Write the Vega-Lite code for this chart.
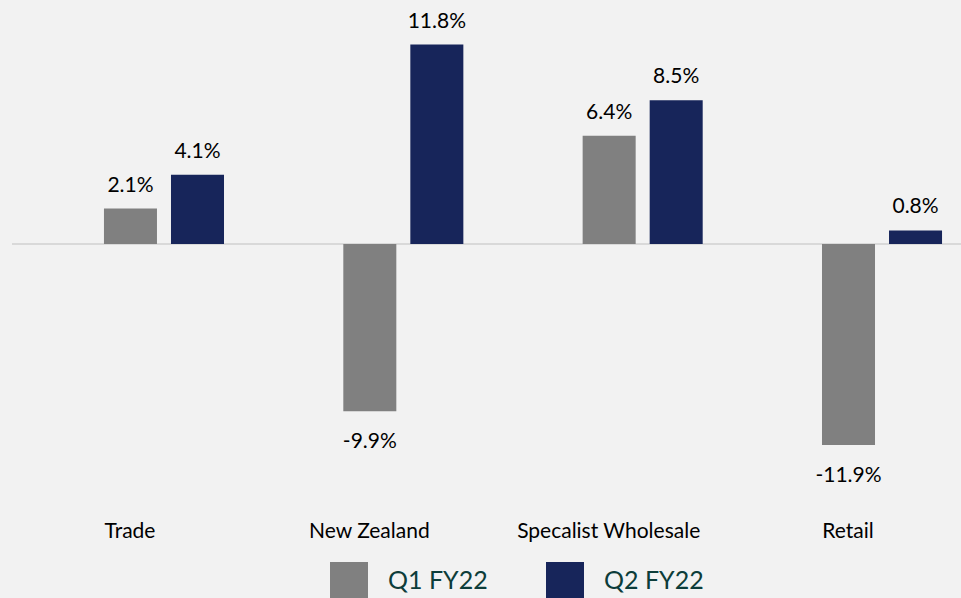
{
  "$schema": "https://vega.github.io/schema/vega-lite/v6.json",
  "autosize": {"type": "none"},
  "width": 949,
  "height": 473.2,
  "padding": {"left": 12, "top": 7.4, "right": 0, "bottom": 117.4},
  "background": "#f2f2f2",
  "config": {
    "view": {"stroke": null},
    "font": "Lato",
    "text": {"font": "Lato"},
    "locale": {"number": {"decimal": ".", "thousands": ",", "grouping": [3], "currency": ["$", ""], "minus": "-", "percent": "%"}}
  },
  "data": {
    "values": [
      {"segment": "Trade", "period": "Q1 FY22", "value": 0.021},
      {"segment": "Trade", "period": "Q2 FY22", "value": 0.041},
      {"segment": "New Zealand", "period": "Q1 FY22", "value": -0.099},
      {"segment": "New Zealand", "period": "Q2 FY22", "value": 0.118},
      {"segment": "Specalist Wholesale", "period": "Q1 FY22", "value": 0.064},
      {"segment": "Specalist Wholesale", "period": "Q2 FY22", "value": 0.085},
      {"segment": "Retail", "period": "Q1 FY22", "value": -0.119},
      {"segment": "Retail", "period": "Q2 FY22", "value": 0.008}
    ]
  },
  "encoding": {
    "x": {
      "field": "segment",
      "type": "nominal",
      "sort": null,
      "scale": {"paddingInner": 0, "paddingOuter": 0.135, "range": [0, 1022]},
      "axis": {
        "title": null,
        "domain": false,
        "ticks": false,
        "grid": false,
        "labelAngle": 0,
        "labelFont": "Lato",
        "labelFontSize": 21,
        "labelFontWeight": "normal",
        "labelColor": "#000000",
        "labelPadding": 40,
        "labelOffset": -34,
        "labelLimit": 300
      }
    },
    "xOffset": {
      "field": "period",
      "type": "nominal",
      "scale": {"paddingInner": 0.209, "paddingOuter": 0.89}
    },
    "y": {
      "field": "value",
      "type": "quantitative",
      "scale": {"domain": [-0.14, 0.14], "nice": false, "zero": true},
      "axis": null
    }
  },
  "layer": [
    {
      "mark": {"type": "rule", "color": "#d9d9d9", "strokeWidth": 2},
      "encoding": {"y": {"datum": 0}, "x": {"value": 0}, "x2": {"value": 949}, "xOffset": null}
    },
    {
      "mark": {"type": "bar"},
      "encoding": {
        "color": {
          "field": "period",
          "type": "nominal",
          "scale": {"domain": ["Q1 FY22", "Q2 FY22"], "range": ["#808080", "#17255a"]},
          "legend": {
            "title": null,
            "orient": "none",
            "direction": "horizontal",
            "legendX": 318,
            "legendY": 554.6,
            "symbolType": "square",
            "symbolSize": 1444,
            "symbolStrokeWidth": 0,
            "labelFont": "Lato",
            "labelFontSize": 25,
            "labelColor": "#0d3d3a",
            "labelOffset": 20,
            "columnPadding": 58,
            "labelLimit": 300
          }
        }
      }
    },
    {
      "transform": [{"filter": "datum.value >= 0"}],
      "mark": {"type": "text", "baseline": "alphabetic", "dy": -17, "fontSize": 21, "color": "#000000"},
      "encoding": {"text": {"field": "value", "type": "quantitative", "format": ".1%"}}
    },
    {
      "transform": [{"filter": "datum.value < 0"}],
      "mark": {"type": "text", "baseline": "alphabetic", "dy": 37, "fontSize": 21, "color": "#000000"},
      "encoding": {"text": {"field": "value", "type": "quantitative", "format": ".1%"}}
    }
  ]
}
